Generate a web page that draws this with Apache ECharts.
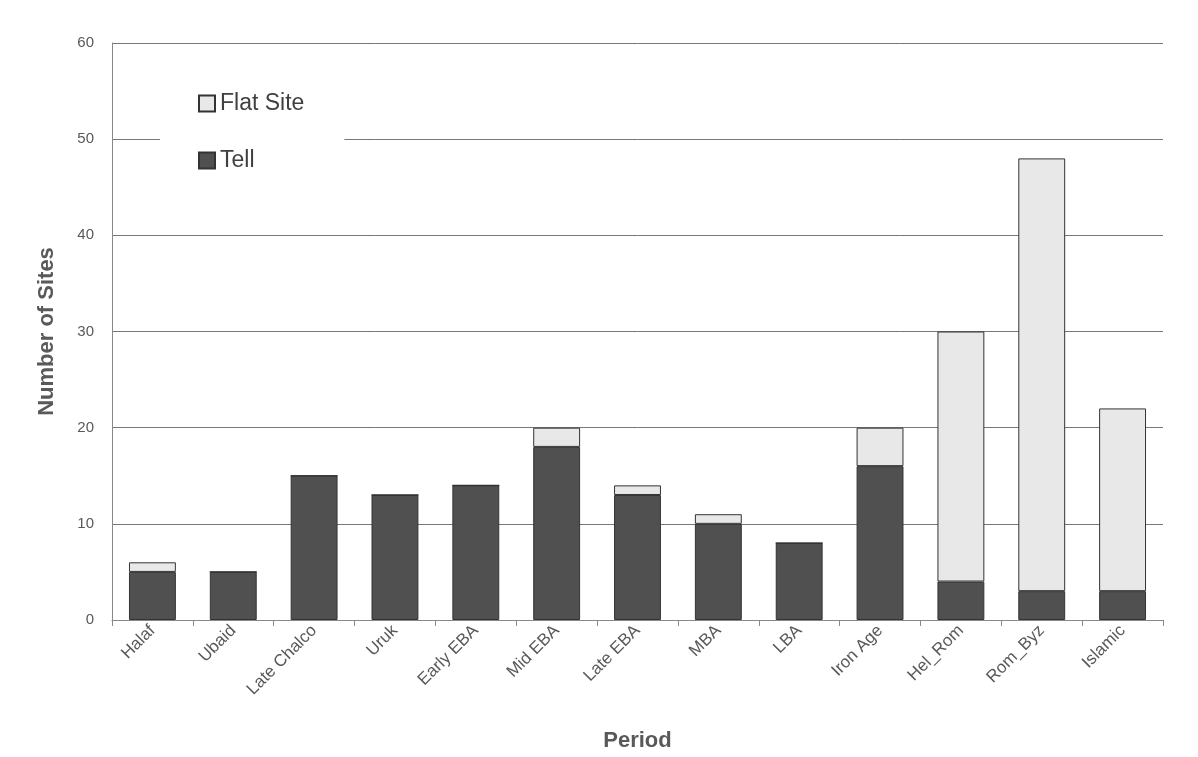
<!DOCTYPE html>
<html>
<head>
<meta charset="utf-8">
<script src="https://cdn.jsdelivr.net/npm/echarts@6/dist/echarts.min.js"></script>
<style>
  html, body { margin: 0; padding: 0; background: #fff; }
  #chart { width: 1198px; height: 757px; }
</style>
</head>
<body>
<div id="chart"></div>
<script>
// periods and site counts
var periods = ['Halaf', 'Ubaid', 'Late Chalco', 'Uruk', 'Early EBA', 'Mid EBA', 'Late EBA', 'MBA', 'LBA', 'Iron Age', 'Hel_Rom', 'Rom_Byz', 'Islamic'];
var tell = [5, 5, 15, 13, 14, 18, 13, 10, 8, 16, 4, 3, 3];
var flat = [1, 0, 0, 0, 0, 2, 1, 1, 0, 4, 26, 45, 19];

var chart = echarts.init(document.getElementById('chart'), null, { renderer: 'canvas' });
var axisColor = '#595959';

chart.setOption({
  animation: false,
  backgroundColor: '#fff',
  textStyle: { fontFamily: 'Liberation Sans, Arial, sans-serif' },
  grid: { left: 112, right: 35, top: 43, bottom: 135 },
  legend: {
    data: ['Flat Site', 'Tell'],
    orient: 'vertical',
    left: 160,
    top: 84,
    icon: 'rect',
    backgroundColor: '#fff',
    padding: [8, 40, 8, 38],
    itemGap: 34,
    itemWidth: 16,
    itemHeight: 16,
    textStyle: { color: '#404040', fontSize: 23 }
  },
  xAxis: {
    type: 'category',
    data: periods,
    name: 'Period',
    nameLocation: 'middle',
    nameGap: 110,
    nameTextStyle: { color: axisColor, fontSize: 22, fontWeight: 'bold' },
    axisLine: { lineStyle: { color: '#888' } },
    axisTick: { show: true, alignWithLabel: false, length: 6, lineStyle: { color: '#888' } },
    axisLabel: { color: axisColor, fontSize: 17, rotate: 45, interval: 0, margin: 8 }
  },
  yAxis: {
    type: 'value',
    min: 0,
    max: 60,
    interval: 10,
    name: 'Number of Sites',
    nameLocation: 'middle',
    nameGap: 54,
    nameTextStyle: { color: axisColor, fontSize: 22, fontWeight: 'bold' },
    axisLine: { show: true, lineStyle: { color: '#888' } },
    axisTick: { show: false },
    axisLabel: { color: axisColor, fontSize: 15, margin: 18 },
    splitLine: { lineStyle: { color: '#777', width: 1 } }
  },
  series: [
    {
      name: 'Tell',
      type: 'bar',
      stack: 'sites',
      data: tell,
      barWidth: '58%',
      itemStyle: { color: '#505050', borderColor: '#333', borderWidth: 1 }
    },
    {
      name: 'Flat Site',
      type: 'bar',
      stack: 'sites',
      data: flat,
      itemStyle: { color: '#e8e8e8', borderColor: '#333', borderWidth: 1 }
    }
  ]
});
</script>
</body>
</html>
